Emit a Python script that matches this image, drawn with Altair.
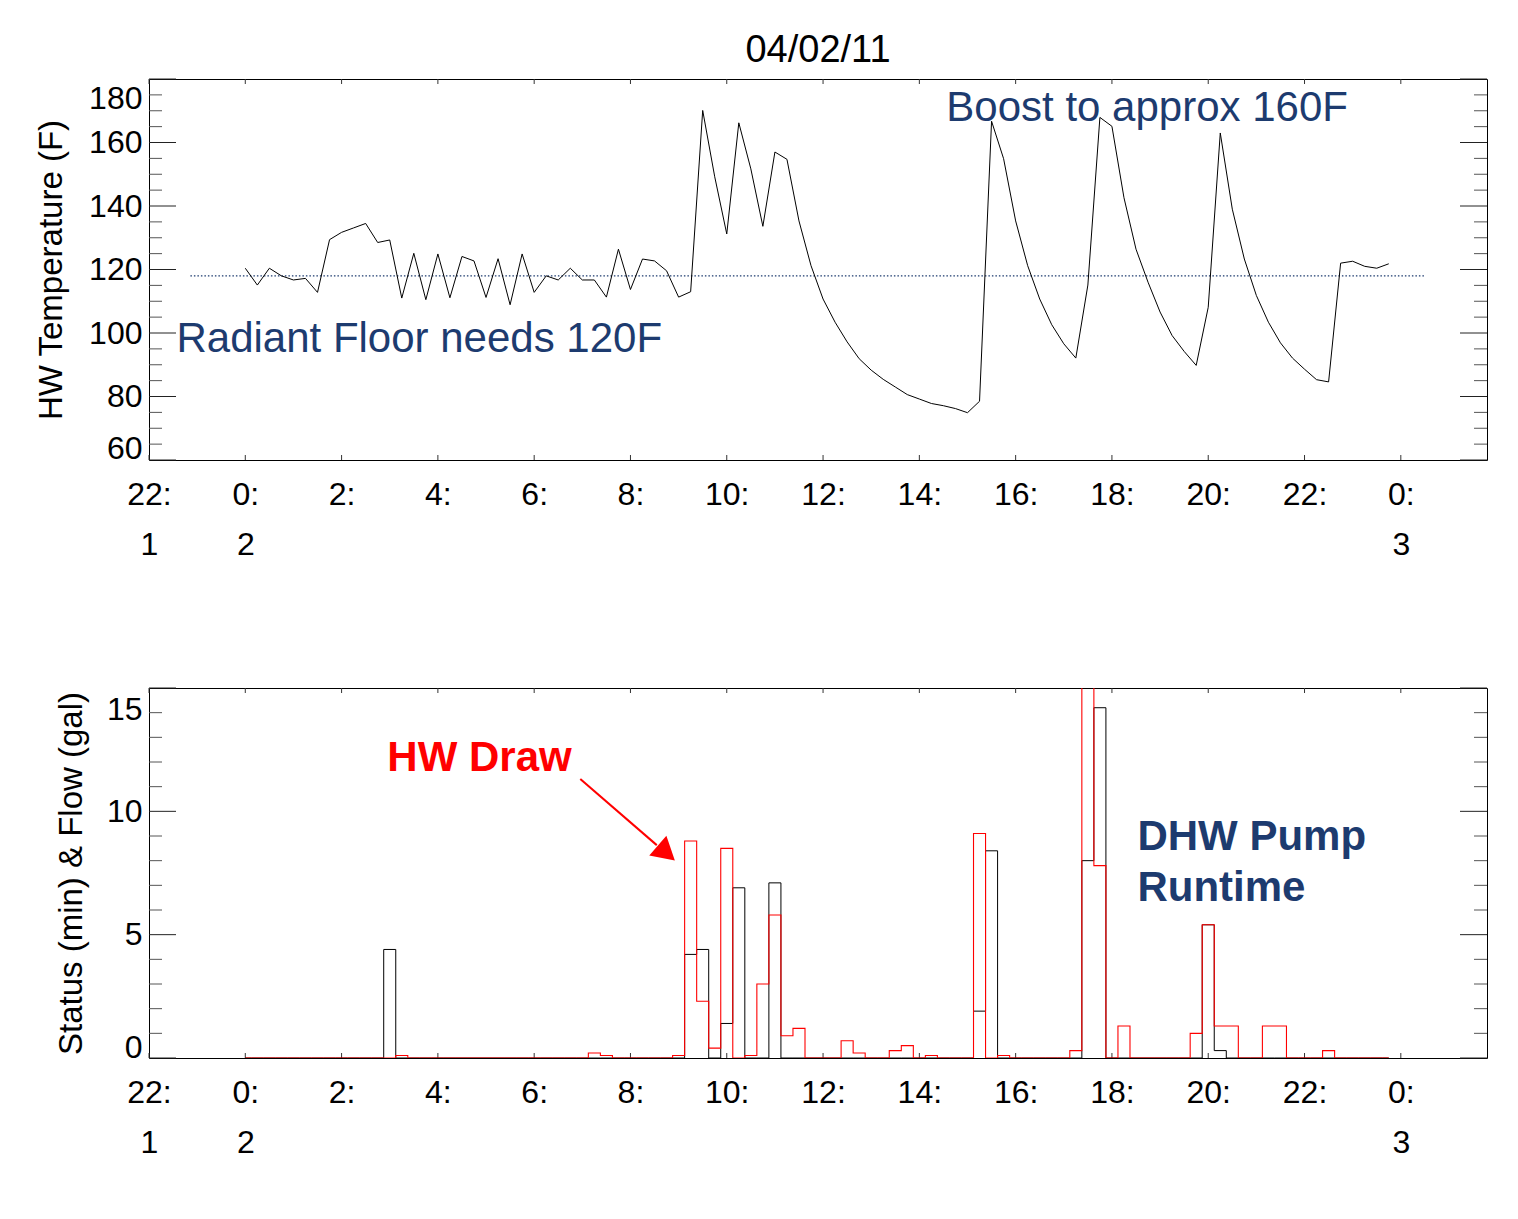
import altair as alt
import pandas as pd

FONT = "Liberation Sans"
BLUE = "#1d3b6f"
PLOT_W = 1338
TOP_H = 381
BOT_H = 370
X_DOMAIN = [-2, 25.79]

# sample times: hours after midnight of day 2, 15-minute steps
hours = [i * 0.25 for i in range(96)]

hw_temp = [
    120.4, 115.1, 120.4, 118.0, 116.7, 117.2, 112.8, 129.4,
    131.7, 133.1, 134.5, 128.5, 129.3, 111.0, 125.1, 110.5,
    124.9, 111.1, 124.1, 122.7, 111.2, 123.4, 108.9, 124.9,
    112.8, 118.0, 116.7, 120.4, 116.7, 116.7, 111.3, 126.4,
    113.7, 123.3, 122.7, 119.6, 111.3, 113.0, 170.1, 149.2,
    131.2, 166.2, 151.7, 133.6, 157.0, 154.7, 135.3, 121.2,
    110.7, 103.4, 97.2, 91.9, 88.3, 85.4, 83.0, 80.6,
    79.2, 77.8, 77.1, 76.2, 74.9, 78.5, 166.7, 154.9,
    135.3, 121.2, 110.7, 102.6, 96.6, 92.1, 115.1, 167.9,
    165.1, 142.6, 126.4, 116.0, 106.6, 99.2, 94.2, 89.8,
    108.1, 163.0, 139.0, 123.3, 111.8, 103.4, 96.9, 92.1,
    88.6, 85.3, 84.6, 122.0, 122.6, 121.0, 120.4, 121.8,
]

# DHW pump runtime (min), non-zero 15-minute bins
pump_hours = [3.0, 9.25, 9.5, 10.0, 10.25, 11.0, 15.25, 15.5, 17.5, 17.75, 20.0, 20.25]
pump_min = [4.4, 4.2, 4.4, 1.4, 6.9, 7.1, 1.9, 8.4, 8.0, 14.2, 5.4, 0.3]

# HW draw (gal), non-zero 15-minute bins
draw_hours = [3.25, 7.25, 7.5, 9.0, 9.25, 9.5, 9.75, 10.0, 10.5, 10.75, 11.0, 11.25,
              11.5, 12.5, 12.75, 13.5, 13.75, 14.25, 15.25, 15.75, 17.25, 17.5, 17.75,
              18.25, 19.75, 20.0, 20.25, 20.5, 21.25, 21.5, 22.5]
draw_gal = [0.1, 0.2, 0.1, 0.1, 8.8, 2.3, 0.4, 8.5, 0.1, 3.0, 5.8, 0.9,
            1.2, 0.7, 0.2, 0.3, 0.5, 0.1, 9.1, 0.1, 0.3, 16.5, 7.8,
            1.3, 1.0, 5.4, 1.3, 1.3, 1.3, 1.3, 0.3]

setpoint = 118
setpoint_span = [-1.14, 24.49]

x_ticks = list(range(-2, 25, 2))
temp_major = [60, 80, 100, 120, 140, 160, 180]
temp_minor = [v for v in range(60, 181, 5) if v not in temp_major]
flow_major = [0, 5, 10, 15]
flow_minor = [v for v in range(0, 16) if v not in flow_major]

annot_top = pd.DataFrame({
    "x": [-1.43, 14.56],
    "y": [98.2, 171.0],
    "t": ["Radiant Floor needs 120F", "Boost to approx 160F"],
})
annot_draw = pd.DataFrame({"x": [2.95], "y": [12.17], "t": ["HW Draw"]})
annot_pump = pd.DataFrame({"x": [18.53], "y": [8.94], "t": [["DHW Pump", "Runtime"]]})
arrow_line = pd.DataFrame({"x": [6.958], "y": [11.31], "x2": [8.546], "y2": [8.63]})
arrow_head = pd.DataFrame({"x": [8.745], "y": [8.31]})

# ---------------------------------------------------------------
pump_map = dict(zip(pump_hours, pump_min))
draw_map = dict(zip(draw_hours, draw_gal))
temp_df = pd.DataFrame({"h": hours, "v": hw_temp})
pump_df = pd.DataFrame({"h": hours, "v": [pump_map.get(h, 0.0) for h in hours]})
draw_df = pd.DataFrame({"h": hours, "v": [draw_map.get(h, 0.0) for h in hours]})

xscale = alt.Scale(domain=X_DOMAIN, nice=False, zero=False)
label_expr = ("datum.value == -2 ? ['22:', '1'] : datum.value == 0 ? ['0:', '2'] : "
              "datum.value == 24 ? ['0:', '3'] : ((datum.value + 24) % 24) + ':'")
xaxis = alt.Axis(values=x_ticks, labelExpr=label_expr, title=None, labelAngle=0,
                 labelPadding=19, labelLineHeight=50, labelOverlap=False, labelFlush=False)


def X(field="h"):
    return alt.X(f"{field}:Q", scale=xscale, axis=xaxis)


def frame_ticks(h_px, major, minor, yscale, yaxis):
    def Y(field="v"):
        return alt.Y(f"{field}:Q", scale=yscale, axis=yaxis)
    maj = pd.DataFrame({"v": major})
    mnr = pd.DataFrame({"v": minor})
    xt = pd.DataFrame({"h": x_ticks})
    layers = []
    for df, ln, col in [(maj, 27, "#222222"), (mnr, 13, "#555555")]:
        layers.append(alt.Chart(df).mark_rule(color=col, strokeWidth=1).encode(
            y=Y(), x=alt.value(0), x2=alt.value(ln)))
        layers.append(alt.Chart(df).mark_rule(color=col, strokeWidth=1).encode(
            y=Y(), x=alt.value(PLOT_W - ln), x2=alt.value(PLOT_W)))
    layers.append(alt.Chart(xt).mark_rule(color="#333333", strokeWidth=1).encode(
        x=X(), y=alt.value(0), y2=alt.value(5)))
    layers.append(alt.Chart(xt).mark_rule(color="#333333", strokeWidth=1).encode(
        x=X(), y=alt.value(h_px - 5), y2=alt.value(h_px)))
    return layers, Y


# ---------------- top panel ----------------
tscale = alt.Scale(domain=[60, 180], nice=False, zero=False)
taxis = alt.Axis(values=temp_major, title="HW Temperature (F)", titlePadding=20,
                 labelPadding=7,
                 labelOffset={"condition": [{"test": "datum.value == 180", "value": 19},
                                            {"test": "datum.value == 60", "value": -12}],
                              "value": 0})
t_layers, TY = frame_ticks(TOP_H, temp_major, temp_minor, tscale, taxis)

temp_line = alt.Chart(temp_df).mark_line(color="black", strokeWidth=1).encode(x=X(), y=TY())
sp = alt.Chart(pd.DataFrame({"h": [setpoint_span[0]], "h2": [setpoint_span[1]], "v": [setpoint]})) \
    .mark_rule(color=BLUE, strokeWidth=1.3, strokeDash=[1.5, 2]).encode(x=X(), x2="h2:Q", y=TY())
top_text = alt.Chart(annot_top).mark_text(align="left", baseline="middle", font=FONT,
                                          fontSize=42, color=BLUE).encode(
    x=X("x"), y=TY("y"), text="t:N")

top = alt.layer(*t_layers, sp, temp_line, top_text).properties(
    width=PLOT_W, height=TOP_H,
    title=alt.TitleParams("04/02/11", font=FONT, fontSize=38, fontWeight="normal",
                          color="black", anchor="middle", offset=-21, baseline="alphabetic",
                          frame="group"))

# ---------------- bottom panel ----------------
fscale = alt.Scale(domain=[0, 15], nice=False, zero=False)
faxis = alt.Axis(values=flow_major, title="Status (min) & Flow (gal)", titlePadding=18,
                 labelPadding=7,
                 labelOffset={"condition": [{"test": "datum.value == 15", "value": 21},
                                            {"test": "datum.value == 0", "value": -11}],
                              "value": 0})
b_layers, FY = frame_ticks(BOT_H, flow_major, flow_minor, fscale, faxis)

pump_line = alt.Chart(pump_df).mark_line(
    color="black", strokeWidth=1, interpolate="step", clip=True).encode(x=X(), y=FY())
draw_line = alt.Chart(draw_df).mark_line(
    color="#ff0000", strokeWidth=1.1, interpolate="step", clip=True).encode(x=X(), y=FY())
arrow = alt.Chart(arrow_line).mark_rule(color="#ff0000", strokeWidth=2).encode(
    x=X("x"), y=FY("y"), x2="x2:Q", y2="y2:Q")
head = alt.Chart(arrow_head).mark_point(shape="triangle-up", size=680, angle=131, filled=True,
                                        color="#ff0000", opacity=1).encode(x=X("x"), y=FY("y"))
draw_text = alt.Chart(annot_draw).mark_text(align="left", baseline="middle", font=FONT,
                                            fontSize=42, fontWeight="bold", color="#ff0000").encode(
    x=X("x"), y=FY("y"), text="t:N")
pump_text = alt.Chart(annot_pump).mark_text(align="left", baseline="middle", font=FONT,
                                            fontSize=42, fontWeight="bold", color=BLUE,
                                            lineHeight=51).encode(
    x=X("x"), y=FY("y"), text="t")

bottom = alt.layer(*b_layers, pump_line, draw_line, arrow, head, draw_text, pump_text).properties(
    width=PLOT_W, height=BOT_H)

chart = alt.vconcat(top, bottom, spacing=126).properties(
    padding={"left": 27, "top": 23, "right": 10, "bottom": 10},
    background="white",
).configure_view(stroke="black", strokeWidth=1).configure_axis(
    labelFont=FONT, labelFontSize=32, labelColor="black",
    titleFont=FONT, titleFontSize=33, titleFontWeight="normal", titleColor="black",
    grid=False, ticks=False, domain=False,
)

chart.save("out.html", embed_options={"renderer": "svg", "actions": False})
